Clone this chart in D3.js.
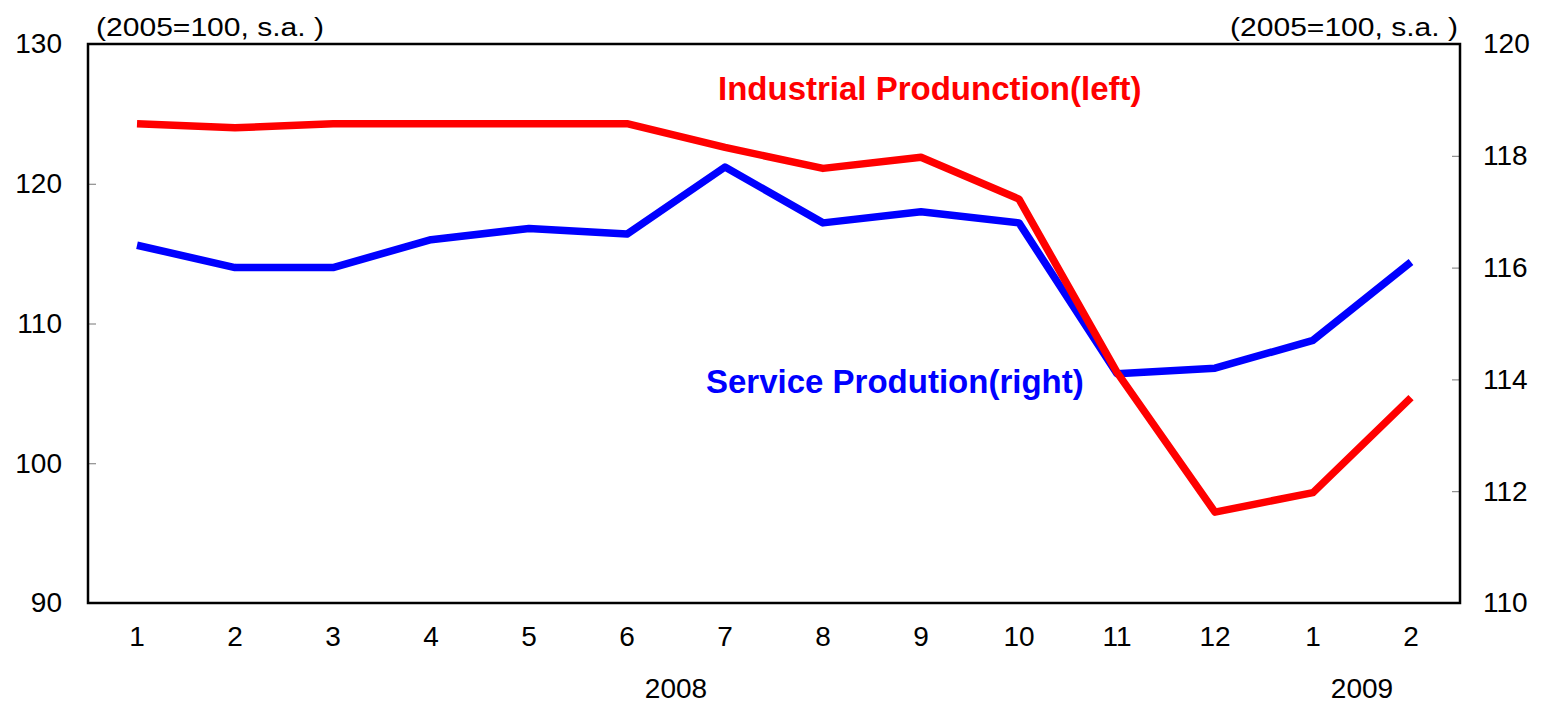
<!DOCTYPE html>
<meta charset="utf-8">
<style>
body { margin: 0; background: #fff; }
text { font-family: "Liberation Sans", Arial, sans-serif; }
.line { fill: none; stroke-width: 7.5px; stroke-linejoin: round; }
</style>
<body>
<script src="https://cdn.jsdelivr.net/npm/d3@7"></script>
<script>

// months Jan 2008 .. Feb 2009
var months = ["1","2","3","4","5","6","7","8","9","10","11","12","1","2"];
var years = [{label: "2008", from: 0, to: 11}, {label: "2009", from: 12, to: 13}];
var industrial = [124.3, 124.0, 124.3, 124.3, 124.3, 124.3, 122.6, 121.1, 121.9, 118.9, 106.5, 96.5, 97.9, 104.7];
var service = [116.4, 116.0, 116.0, 116.5, 116.7, 116.6, 117.8, 116.8, 117.0, 116.8, 114.1, 114.2, 114.7, 116.1];
var leftTicks = [90, 100, 110, 120, 130];
var rightTicks = [110, 112, 114, 116, 118, 120];

var margin = {top: 44, right: 81, bottom: 100, left: 88},
    width = 1541 - margin.left - margin.right,
    height = 703 - margin.top - margin.bottom;

var fs = 28;

var svg = d3.select("body").append("svg")
    .attr("width", 1541)
    .attr("height", 703)
  .append("g")
    .attr("transform", "translate(" + margin.left + "," + margin.top + ")");

var x = d3.scaleBand().domain(d3.range(months.length)).range([0, width]);
var yL = d3.scaleLinear().domain([90, 130]).range([height, 0]);
var yR = d3.scaleLinear().domain([110, 120]).range([height, 0]);

// left axis, inward ticks
var gl = svg.append("g")
    .call(d3.axisRight(yL).tickValues(leftTicks).tickSize(8).tickFormat(d3.format("d")));
gl.select(".domain").remove();
gl.selectAll(".tick line").attr("stroke", "#777");
gl.selectAll(".tick text").attr("x", -26).attr("text-anchor", "end")
    .attr("font-size", fs).attr("fill", "#000");

var gr = svg.append("g")
    .attr("transform", "translate(" + width + ",0)")
    .call(d3.axisLeft(yR).tickValues(rightTicks).tickSize(8).tickFormat(d3.format("d")));
gr.select(".domain").remove();
gr.selectAll(".tick line").attr("stroke", "#777");
gr.selectAll(".tick text").attr("x", 23).attr("text-anchor", "start")
    .attr("font-size", fs).attr("fill", "#000");

// frame
svg.append("rect")
    .attr("width", width).attr("height", height)
    .attr("fill", "none").attr("stroke", "#000").attr("stroke-width", 2.5);

// bottom axis labels
var gx = svg.append("g")
    .attr("transform", "translate(0," + height + ")")
    .call(d3.axisBottom(x).tickSize(0).tickFormat(function(i) { return months[i]; }));
gx.select(".domain").remove();
gx.selectAll(".tick text").attr("y", 43).attr("dy", 0)
    .attr("font-size", fs).attr("fill", "#000");

svg.selectAll(".year")
    .data(years)
  .enter().append("text")
    .attr("class", "year")
    .attr("x", function(d) { return (x(d.from) + x(d.to) + x.bandwidth()) / 2; })
    .attr("y", height + 95)
    .attr("text-anchor", "middle")
    .attr("font-size", fs)
    .text(function(d) { return d.label; });

// unit labels
svg.append("text").attr("x", 8).attr("y", -8).attr("font-size", 25)
    .attr("textLength", 228).attr("lengthAdjust", "spacingAndGlyphs")
    .text("(2005=100, s.a. )");
svg.append("text").attr("x", width - 2 - 228).attr("y", -8)
    .attr("font-size", 25)
    .attr("textLength", 228).attr("lengthAdjust", "spacingAndGlyphs")
    .text("(2005=100, s.a. )");

var cx = function(d, i) { return x(i) + x.bandwidth() / 2; };

svg.append("path")
    .datum(service)
    .attr("class", "line")
    .attr("stroke", "#0000ff")
    .attr("d", d3.line().x(cx).y(function(d) { return yR(d); }));

svg.append("path")
    .datum(industrial)
    .attr("class", "line")
    .attr("stroke", "#ff0000")
    .attr("d", d3.line().x(cx).y(function(d) { return yL(d); }));

svg.append("text")
    .attr("x", 630).attr("y", 56)
    .attr("font-size", 33).attr("font-weight", "bold").attr("fill", "#ff0000")
    .text("Industrial Produnction(left)");

svg.append("text")
    .attr("x", 618).attr("y", 349)
    .attr("font-size", 33).attr("font-weight", "bold").attr("fill", "#0000ff")
    .text("Service Prodution(right)");

</script>
</body>
